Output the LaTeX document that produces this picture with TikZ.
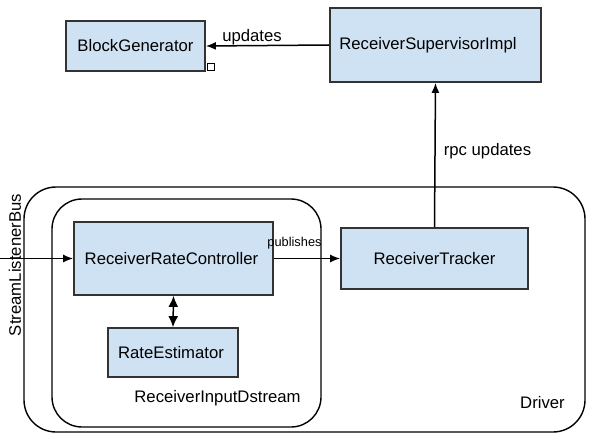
\documentclass[tikz,border=0pt]{standalone}
\usepackage{fontspec}
\setmainfont{Liberation Sans}
\usetikzlibrary{arrows.meta}
\definecolor{boxblue}{HTML}{CFE2F3}
\definecolor{boxline}{HTML}{333333}
\begin{document}
\begin{tikzpicture}[x=1pt, y=-1pt, every node/.style={font=\fontsize{16.7}{20}\selectfont}]
    \tikzstyle{comp}=[draw=boxline, line width=1.8pt, fill=boxblue, inner sep=0pt, minimum height=50pt]
    \tikzstyle{frame}=[draw, line width=1.4pt, rounded corners=32pt]
    \tikzstyle{links}=[line width=1.5pt, -{Latex[length=10pt,width=8pt]}]
    
    \useasboundingbox (0, 0) rectangle (597, 441);
    
    % containers
    \draw[frame] (24, 187) rectangle (585, 432);
    \draw[frame, rounded corners=30pt] (52, 199) rectangle (321, 427);
    
    % components
    \node[comp, minimum width=139pt] (blockgen) at (135.5, 46) {BlockGenerator};
    \node[comp, minimum width=211pt, minimum height=74pt] (supervisor) at (435.5, 45) {ReceiverSupervisorImpl\hspace*{15pt}};
    \node[comp, minimum width=187pt, minimum height=61pt] (tracker) at (434.5, 258.5) {ReceiverTracker};
    \node[comp, minimum width=199pt, minimum height=73pt] (ratectl) at (173.5, 258.5) {ReceiverRateController\hspace*{4pt}};
    \node[comp, minimum width=130pt, minimum height=49pt] (rateest) at (173, 352.5) {RateEstimator\hspace*{4pt}};
    \node[draw, line width=0.8pt, minimum size=7pt, inner sep=0pt] (handle) at (210.5, 66.5) {};
    
    \coordinate (busin) at (0, 258.5);
    
    % connectors
    \draw[links] (supervisor.west) -- (blockgen.east);
    \draw[links] (tracker.north) -- (supervisor.south);
    \draw[links] (busin) -- (ratectl.west);
    \draw[links] (ratectl.east) -- (tracker.west);
    \draw[links, {Latex[length=11pt,width=10pt]}-{Latex[length=11pt,width=10pt]}] (ratectl.south) -- (rateest.north);
    
    % labels
    \node (updates) at (252, 37) {updates};
    \node (rpc) at (487.5, 151) {rpc updates};
    \node[font=\fontsize{12.8}{15}\selectfont] (publishes) at (294.5, 243) {publishes};
    \node (driver) at (542.5, 403) {Driver};
    \node (inputds) at (217.5, 398) {ReceiverInputDstream};
    \node[rotate=90] (bus) at (15, 265) {StreamListenerBus};
    
\end{tikzpicture}
\end{document}
